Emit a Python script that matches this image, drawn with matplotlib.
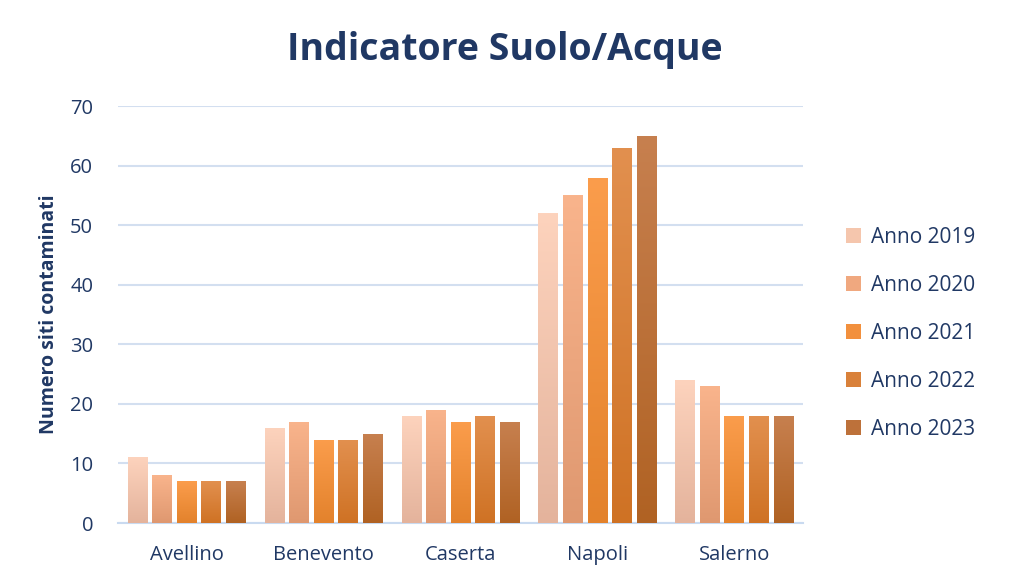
import numpy as np
import matplotlib
matplotlib.use("Agg")
import matplotlib.pyplot as plt
from matplotlib.colors import LinearSegmentedColormap

plt.rcParams["font.family"] = ["Open Sans", "DejaVu Sans"]
NAVY = "#203864"

provinces = ["Avellino", "Benevento", "Caserta", "Napoli", "Salerno"]
years = ["Anno 2019", "Anno 2020", "Anno 2021", "Anno 2022", "Anno 2023"]
anno_2019 = [11, 16, 18, 52, 24]
anno_2020 = [8, 17, 19, 55, 23]
anno_2021 = [7, 14, 17, 58, 18]
anno_2022 = [7, 14, 18, 63, 18]
anno_2023 = [7, 15, 17, 65, 18]
series = [anno_2019, anno_2020, anno_2021, anno_2022, anno_2023]
# (top, bottom) gradient colours per year
grads = [("#fdd3bd", "#e4b39c"), ("#f9b48c", "#df9870"), ("#fb9d4c", "#e3822c"),
         ("#e2904f", "#cf7224"), ("#c7804f", "#b06223")]
mids = ["#f5c6ad", "#f0a87f", "#f2903d", "#d9813a", "#bd713a"]

fig = plt.figure(figsize=(10.1, 5.86), dpi=100)
ax = fig.add_axes([0.117, 0.1075, 0.678, 0.7115])
x = np.arange(len(provinces))
slot, w = 0.179, 0.146
for i, (vals, (top, bot), mid, lab) in enumerate(zip(series, grads, mids, years)):
    pos = x + (i - 2) * slot
    bars = ax.bar(pos, vals, w, color=mid, label=lab, zorder=2)
    cmap = LinearSegmentedColormap.from_list(f"g{i}", [bot, top])
    grad = np.linspace(0, 1, 256).reshape(-1, 1)
    for b in bars:
        x0, h = b.get_x(), b.get_height()
        im = ax.imshow(grad, cmap=cmap, aspect="auto", origin="lower",
                       extent=[x0, x0 + w, 0, h], zorder=3)
        im.set_clip_path(b)

ax.set_xlim(-0.5, 4.5)
ax.set_ylim(0, 70)
ax.set_yticks(range(0, 71, 10))
ax.set_xticks(x)
ax.set_xticklabels(provinces)
ax.grid(axis="y", color="#d3dff0", lw=1.5, zorder=0)
for s in ["top", "right", "left"]:
    ax.spines[s].set_visible(False)
ax.spines["bottom"].set_color("#c9daf0")
ax.spines["bottom"].set_linewidth(1.5)
ax.tick_params(length=0, labelsize=14.5, colors=NAVY)
ax.tick_params(axis="x", pad=16)
ax.tick_params(axis="y", pad=18)
ax.set_ylabel("Numero siti contaminati", fontsize=14, fontweight="bold", color=NAVY, labelpad=8)

fig.text(0.5, 0.915, "Indicatore Suolo/Acque", ha="center", va="center",
         fontsize=27, fontweight="bold", color=NAVY)

leg = ax.legend(loc="center left", bbox_to_anchor=(1.035, 0.455), frameon=False,
                fontsize=15, labelcolor=NAVY, handlelength=0.75, handleheight=0.75,
                handletextpad=0.45, labelspacing=1.3)

fig.savefig("out.png", dpi=100)
